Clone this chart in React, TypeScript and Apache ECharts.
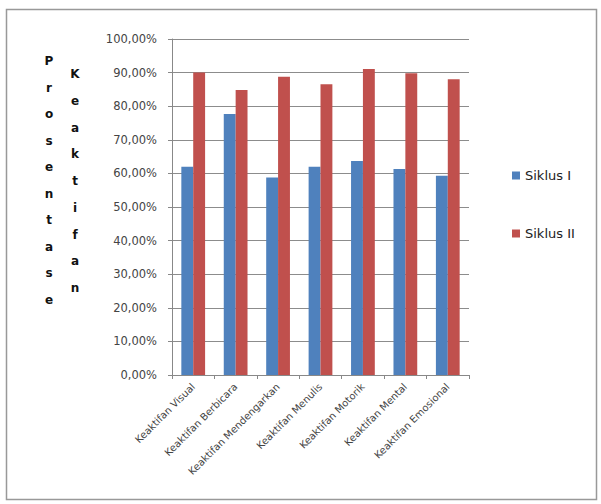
import React, { useEffect, useRef } from "react";
import * as echarts from "echarts";

const categories = [
  "Keaktifan Visual",
  "Keaktifan Berbicara",
  "Keaktifan Mendengarkan",
  "Keaktifan Menulis",
  "Keaktifan Motorik",
  "Keaktifan Mental",
  "Keaktifan Emosional",
];
const siklus1 = [62.0, 77.7, 58.8, 62.0, 63.7, 61.3, 59.3];
const siklus2 = [90.0, 84.8, 88.8, 86.5, 91.1, 89.8, 88.0];
const seriesNames = ["Siklus I", "Siklus II"];
const axisTitle1 = "Prosentase";
const axisTitle2 = "Keaktifan";

const FONT = "'DejaVu Sans', 'Noto Sans', sans-serif";

export default function App() {
  const ref = useRef<HTMLDivElement>(null);
  useEffect(() => {
    if (!ref.current) return;
    const chart = echarts.init(ref.current, null, { renderer: "svg" });
    chart.setOption({
      animation: false,
      backgroundColor: "#ffffff",
      grid: { left: 172, right: 132, top: 39, bottom: 129, containLabel: false },
      legend: {
        orient: "vertical",
        left: 507,
        top: 164,
        itemGap: 45,
        itemWidth: 8,
        itemHeight: 8,
        icon: "rect",
        textStyle: { fontFamily: FONT, fontSize: 13, color: "#222" },
        data: seriesNames,
      },
      xAxis: {
        type: "category",
        data: categories,
        axisLine: { lineStyle: { color: "#888", width: 1 } },
        axisTick: { show: true, alignWithLabel: false, inside: false, length: 4, lineStyle: { color: "#888" } },
        axisLabel: {
          interval: 0,
          rotate: 45,
          fontFamily: FONT,
          fontSize: 10,
          color: "#444",
          margin: 10,
        },
      },
      yAxis: {
        type: "value",
        min: 0,
        max: 100,
        interval: 10,
        axisLine: { show: true, lineStyle: { color: "#888" } },
        axisTick: { show: true, length: 4, lineStyle: { color: "#888" } },
        splitLine: { show: true, lineStyle: { color: "#8c8c8c", width: 1 } },
        axisLabel: {
          fontFamily: FONT,
          fontSize: 11.5,
          color: "#444",
          margin: 15,
          formatter: (v: number) => v.toFixed(2).replace(".", ",") + "%",
        },
      },
      series: [
        {
          name: seriesNames[0],
          type: "bar",
          data: siklus1,
          barGap: "0%",
          barCategoryGap: "44%",
          itemStyle: { color: "#4F81BD" },
        },
        {
          name: seriesNames[1],
          type: "bar",
          data: siklus2,
          barGap: "0%",
          barCategoryGap: "44%",
          itemStyle: { color: "#C0504D" },
        },
      ],
      graphic: [
        {
          type: "rect",
          shape: { x: 6.5, y: 9.5, width: 590, height: 490 },
          style: { fill: "none", stroke: "#999", lineWidth: 1.5 },
          silent: true,
        },
        {
          type: "text",
          x: 49,
          y: 48,
          style: {
            text: axisTitle1.split("").join("\n"),
            fontFamily: FONT,
            fontSize: 12,
            fontWeight: "bold",
            lineHeight: 26.5,
            fill: "#111",
            align: "center",
          },
        },
        {
          type: "text",
          x: 75,
          y: 61,
          style: {
            text: axisTitle2.split("").join("\n"),
            fontFamily: FONT,
            fontSize: 12,
            fontWeight: "bold",
            lineHeight: 26.7,
            fill: "#111",
            align: "center",
          },
        },
      ],
    });
    return () => chart.dispose();
  }, []);
  return (
    <div
      ref={ref}
      style={{ position: "absolute", left: 0, top: 0, width: 601, height: 504 }}
    />
  );
}
